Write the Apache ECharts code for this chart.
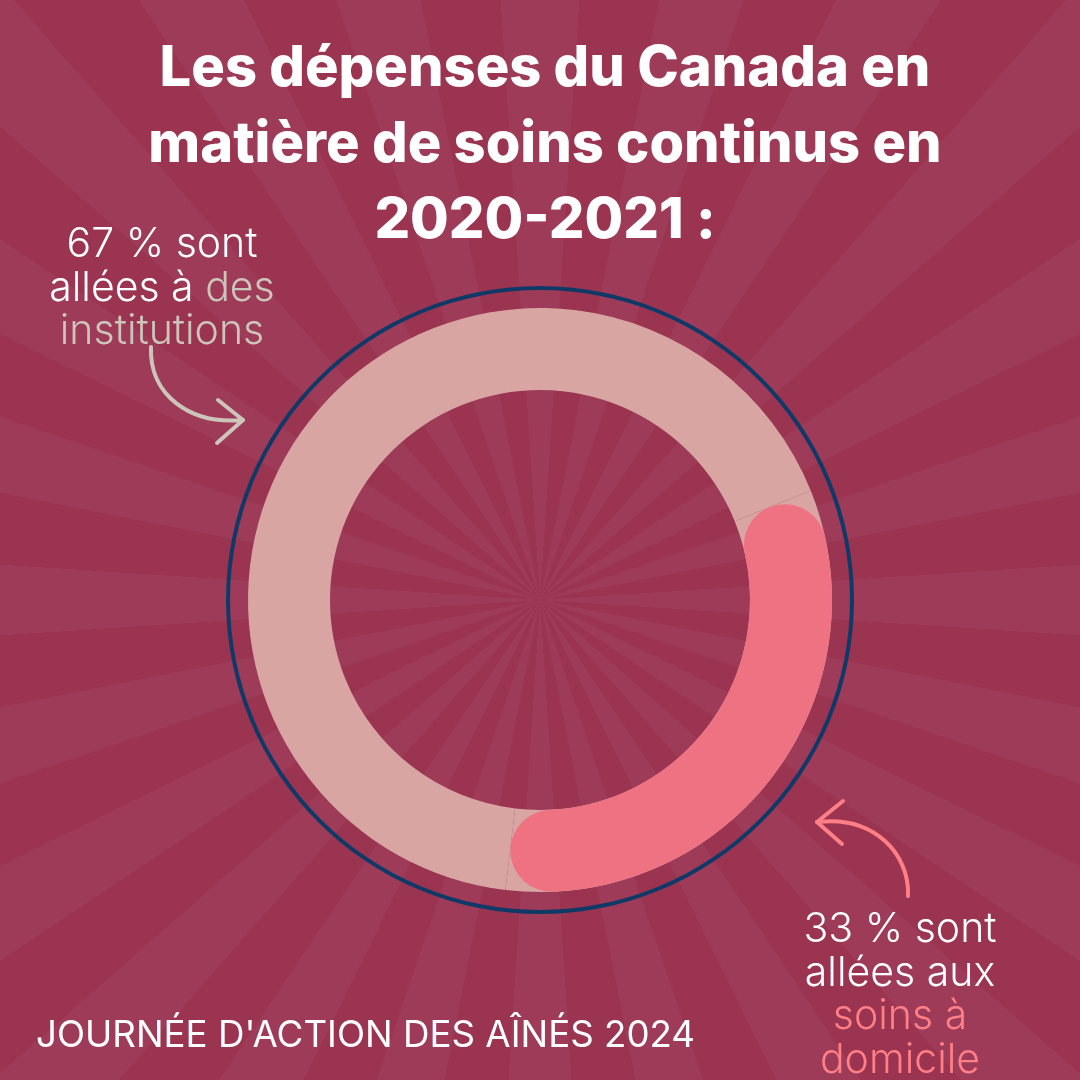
<!DOCTYPE html>
<html>
<head>
<meta charset="utf-8">
<style>
html, body { margin: 0; padding: 0; width: 1080px; height: 1080px; overflow: hidden; }
body { background: repeating-conic-gradient(from 3.75deg at 540px 600px, #9b3450 0deg 7.5deg, #9d3b59 7.5deg 15deg); }
#Root { width: 1080px; height: 1080px; }
</style>
<script src="https://cdn.jsdelivr.net/npm/echarts@6/dist/echarts.min.js"></script>
</head>
<body>
<div id="Root"></div>
<script>
// slices, clockwise from the top right end of the pink arc
const categories = ["soins à domicile", "institutions"]
const shares = [33, 67]

const titleText = "Les dépenses du Canada en\nmatière de soins continus en\n2020-2021 :"
const footerText = "JOURNÉE D'ACTION DES AÎNÉS 2024"
const leftNote = "{w|67 % sont}\n{w|allées à }{c|des}\n{c|institutions}"
const rightNote = "{w|33 % sont}\n{w|allées aux}\n{c|soins à}\n{c|domicile}"

const fontName = "Inter"
const startAngle = 22

function noteStyle(color) {
    return {
        rich: {
            w: { fontFamily: fontName, fontWeight: 300, fontSize: 41, lineHeight: 43.5, color: "#ffffff" },
            c: { fontFamily: fontName, fontWeight: 300, fontSize: 41, lineHeight: 43.5, color: color }
        }
    }
}

function arrow(curve, head, color) {
    let style = { fill: null, stroke: color, lineWidth: 4, lineCap: "round", lineJoin: "round" }
    return [
        { type: "bezierCurve", silent: true, shape: curve, style: style },
        { type: "polyline", silent: true, shape: { points: head }, style: style }
    ]
}

let chart = echarts.init(document.getElementById("Root"), null, { renderer: "canvas" })

chart.setOption({
    backgroundColor: "transparent",
    animation: false,
    tooltip: { show: false },
    title: [
        {
            text: titleText, left: 540, top: 26, textAlign: "center",
            textStyle: { fontFamily: fontName, fontWeight: 800, fontSize: 56, lineHeight: 76, color: "#ffffff" }
        },
        { text: leftNote, left: 157, top: 218, textAlign: "center", textStyle: noteStyle("#cdc5ba") },
        { text: rightNote, left: 895, top: 903, textAlign: "center", textStyle: noteStyle("#ff7f87") },
        {
            text: footerText, left: 31, top: 1012,
            textStyle: { fontFamily: fontName, fontWeight: 400, fontSize: 36.7, color: "#ffffff" }
        }
    ],
    series: [
        // navy outline
        {
            type: "pie", silent: true, center: [540, 600], radius: [310, 314],
            label: { show: false }, labelLine: { show: false },
            itemStyle: { color: "#0f3a68" },
            data: [{ value: shares[0] + shares[1], name: "total" }]
        },
        // light ring, runs under the pink caps
        {
            type: "pie", silent: true, center: [540, 600], radius: [210, 292], startAngle: startAngle,
            label: { show: false }, labelLine: { show: false },
            itemStyle: { color: "#d8a5a3" },
            data: categories.map((name, i) => ({ name: name, value: shares[i] }))
        },
        // pink arc with round ends
        {
            type: "pie", silent: true, center: [540, 600], radius: [210, 292], startAngle: startAngle,
            label: { show: false }, labelLine: { show: false },
            data: categories.map((name, i) => ({
                name: name,
                value: shares[i],
                itemStyle: i == 0 ? { color: "#ee7282", borderRadius: 41 } : { color: "transparent" }
            }))
        }
    ],
    graphic: [
        ...arrow({ x1: 151, y1: 347, cpx1: 149, cpy1: 395, cpx2: 190, cpy2: 425, x2: 243, y2: 420 },
            [[218, 400], [243, 420], [217, 443]], "#cdc5ba"),
        ...arrow({ x1: 908, y1: 896, cpx1: 910, cpy1: 855, cpx2: 875, cpy2: 815, x2: 817, y2: 822 },
            [[843, 801], [817, 822], [842, 844]], "#ff7f87")
    ]
})
</script>
</body>
</html>
